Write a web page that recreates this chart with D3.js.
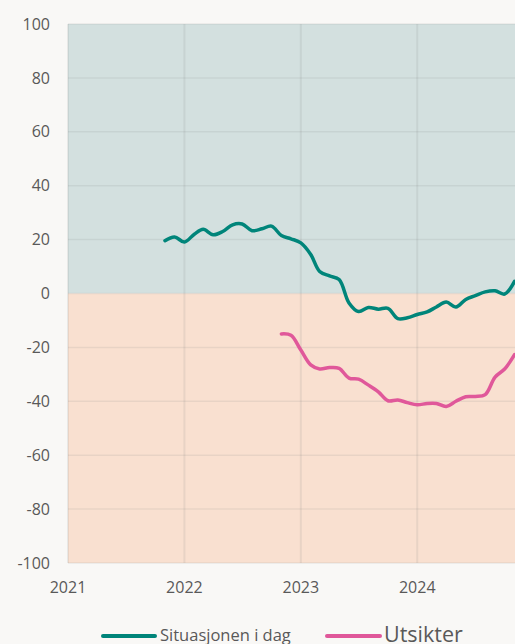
<!DOCTYPE html>
<html>
<head>
<meta charset="utf-8">
<script src="https://cdn.jsdelivr.net/npm/d3@7"></script>
<style>
  html, body { margin: 0; padding: 0; background: #f9f8f6; }
  svg { display: block; font-family: "Open Sans", "Liberation Sans", Arial, sans-serif; }
</style>
</head>
<body>
<svg class="chart" width="515" height="644"></svg>
<script>
// Data: monthly index values
const situasjonStart = "2021-11";
const situasjon = [19.6, 21.0, 19.1, 22.0, 23.8, 21.8, 23.0, 25.5, 25.8, 23.3, 24.0, 25.0,
  21.5, 20.3, 18.8, 14.5, 8.2, 6.5, 5.2, -3.5, -6.7, -5.2, -5.8, -5.5,
  -9.3, -9.0, -7.8, -6.8, -5.0, -3.2, -5.0, -2.2, -0.8, 0.6, 1.0, -0.2, 4.5];

const utsikterStart = "2022-11";
const utsikter = [-15.0, -15.5, -21.0, -26.5, -28.0, -27.5, -27.8, -31.4, -31.8, -34.0, -36.5, -39.8,
  -39.5, -40.5, -41.3, -40.8, -40.8, -41.9, -40.0, -38.3, -38.2, -37.5, -31.0, -28.0, -22.7];

const yTicks = [-100, -80, -60, -40, -20, 0, 20, 40, 60, 80, 100];
const xTicks = ["2021", "2022", "2023", "2024"];
const seriesNames = ["Situasjonen i dag", "Utsikter"];

const parseMonth = d3.timeParse("%Y-%m");
const parseYear = d3.timeParse("%Y");

function toPoints(start, values) {
  const s = parseMonth(start);
  return values.map((v, i) => ({ date: d3.timeMonth.offset(s, i), value: v }));
}

const svg = d3.select(".chart");

const plotLeft = 68, plotTop = 24, plotBottom = 563, plotRight = 534;

const xScale = d3.scaleTime()
  .domain([parseYear("2021"), parseYear("2025")])
  .range([plotLeft, plotRight]);

const yScale = d3.scaleLinear()
  .domain([-100, 100])
  .range([plotBottom, plotTop]);

// Background bands
svg.append("rect")
  .attr("x", plotLeft).attr("y", yScale(100))
  .attr("width", plotRight - plotLeft).attr("height", yScale(0) - yScale(100))
  .attr("fill", "#d3e0df");
svg.append("rect")
  .attr("x", plotLeft).attr("y", yScale(0))
  .attr("width", plotRight - plotLeft).attr("height", yScale(-100) - yScale(0))
  .attr("fill", "#f9e0d0");

// Grid lines
svg.append("g")
  .selectAll("line")
  .data(yTicks)
  .enter()
  .append("line")
  .attr("x1", plotLeft).attr("x2", plotRight)
  .attr("y1", d => yScale(d)).attr("y2", d => yScale(d))
  .attr("stroke", "rgba(120,120,120,0.13)")
  .attr("stroke-width", 1.5);

svg.append("g")
  .selectAll("line")
  .data(xTicks)
  .enter()
  .append("line")
  .attr("x1", d => xScale(parseYear(d))).attr("x2", d => xScale(parseYear(d)))
  .attr("y1", plotTop).attr("y2", plotBottom)
  .attr("stroke", "rgba(120,120,120,0.13)")
  .attr("stroke-width", 2);

// Y axis labels
svg.append("g")
  .selectAll("text")
  .data(yTicks)
  .enter()
  .append("text")
  .attr("x", 50)
  .attr("y", d => yScale(d))
  .attr("dy", "0.35em")
  .attr("text-anchor", "end")
  .attr("fill", "#595959")
  .style("font-size", "16px")
  .text(d => d);

// X axis labels
svg.append("g")
  .selectAll("text")
  .data(xTicks)
  .enter()
  .append("text")
  .attr("x", d => xScale(parseYear(d)))
  .attr("y", 593)
  .attr("text-anchor", "middle")
  .attr("fill", "#595959")
  .style("font-size", "16px")
  .text(d => d);

// Lines
const line = d3.line()
  .x(d => xScale(d.date))
  .y(d => yScale(d.value))
  .curve(d3.curveCatmullRom.alpha(0.5));

svg.append("path")
  .datum(toPoints(situasjonStart, situasjon))
  .attr("d", line)
  .attr("fill", "none")
  .attr("stroke", "#00857a")
  .attr("stroke-width", 3.5)
  .attr("stroke-linecap", "round");

svg.append("path")
  .datum(toPoints(utsikterStart, utsikter))
  .attr("d", line)
  .attr("fill", "none")
  .attr("stroke", "#e0589a")
  .attr("stroke-width", 3.5)
  .attr("stroke-linecap", "round");

// Legend
const legend = svg.append("g");
legend.append("line")
  .attr("x1", 103).attr("x2", 155).attr("y1", 636).attr("y2", 636)
  .attr("stroke", "#00857a").attr("stroke-width", 4).attr("stroke-linecap", "round");
legend.append("text")
  .attr("x", 160).attr("y", 641)
  .attr("fill", "#595959")
  .style("font-size", "16.5px")
  .text(seriesNames[0]);
legend.append("line")
  .attr("x1", 327).attr("x2", 380).attr("y1", 636).attr("y2", 636)
  .attr("stroke", "#e0589a").attr("stroke-width", 4).attr("stroke-linecap", "round");
legend.append("text")
  .attr("x", 384).attr("y", 642)
  .attr("fill", "#595959")
  .style("font-size", "21.5px")
  .text(seriesNames[1]);
</script>
</body>
</html>
